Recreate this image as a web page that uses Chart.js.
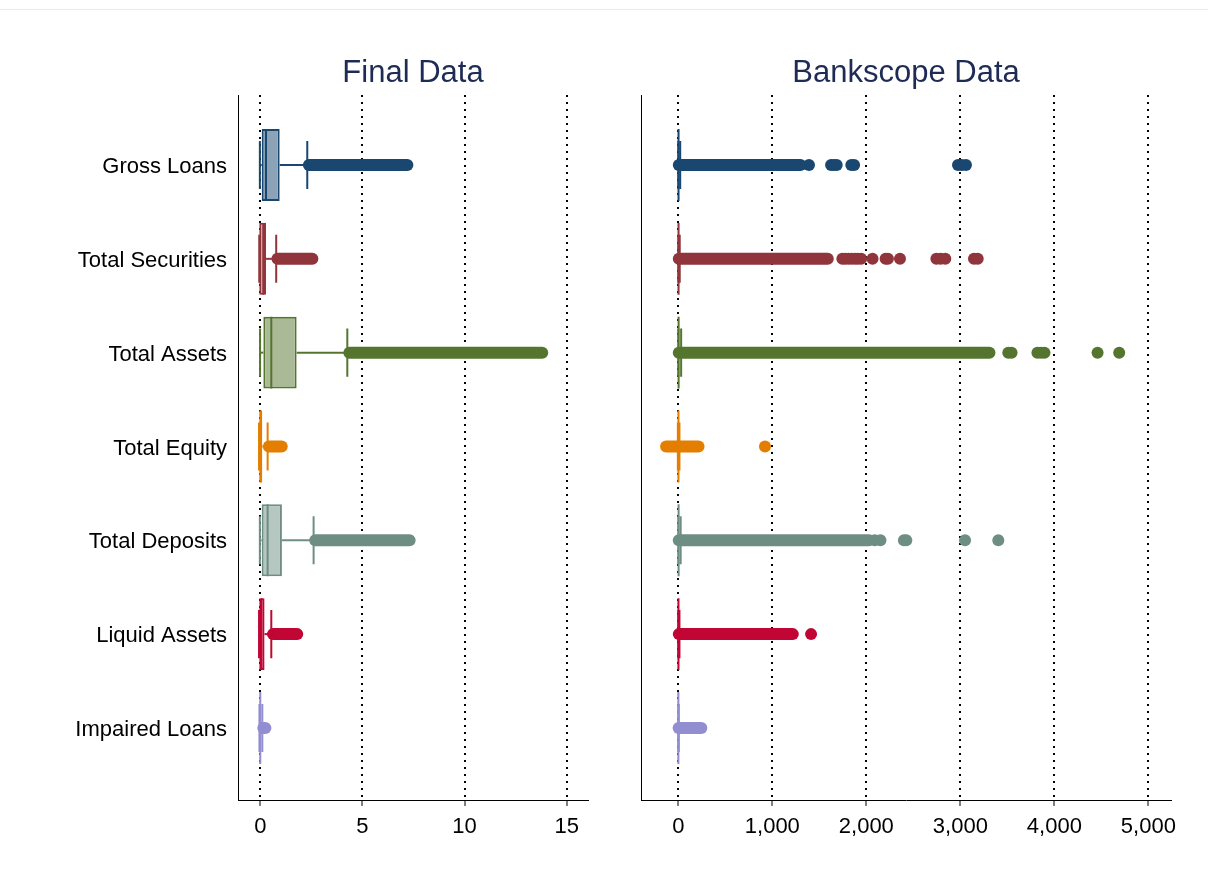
<!DOCTYPE html>
<html>
<head>
<meta charset="utf-8">
<title>Final Data vs Bankscope Data</title>
<script src="https://cdn.jsdelivr.net/npm/chart.js@4.4.1/dist/chart.umd.min.js"></script>
<style>
  html, body { margin: 0; padding: 0; background: #ffffff; }
  #page { position: relative; width: 1208px; height: 880px; overflow: hidden; background: #ffffff; }
  #topRule { position: absolute; left: 0; top: 9px; width: 1208px; height: 1px; background: #ececec; }
  #finalCanvas { position: absolute; left: 0; top: 0; }
  #bankCanvas { position: absolute; left: 600px; top: 0; }
</style>
</head>
<body>
<div id="page">
  <div id="topRule"></div>
  <canvas id="finalCanvas" width="600" height="880"></canvas>
  <canvas id="bankCanvas" width="608" height="880"></canvas>
</div>
<script>
// ---- Categories and tick labels ----
const categories = ['Gross Loans', 'Total Securities', 'Total Assets', 'Total Equity',
                    'Total Deposits', 'Liquid Assets', 'Impaired Loans'];
const finalTicks = [0, 5, 10, 15];
const bankTicks = [0, 1000, 2000, 3000, 4000, 5000];

// ---- Final Data: box statistics per category ----
const finalLowerAdj = [-0.02, -0.05, -0.01, -0.06, -0.02, -0.06, -0.04];
const finalQ1       = [0.07, -0.05, 0.15, -0.05, 0.07, -0.05, -0.03];
const finalMedian   = [0.28, 0.15, 0.54, 0.02, 0.36, 0.06, 0.00];
const finalQ3       = [0.95, 0.28, 1.78, 0.10, 1.06, 0.21, 0.04];
const finalUpperAdj = [2.30, 0.78, 4.26, 0.36, 2.61, 0.54, 0.10];
// outside values: densely packed stretches [from, to] and isolated values
const finalOutlierRuns = [[2.38, 7.20], [0.84, 2.55], [4.36, 13.80], [0.42, 1.05],
                          [2.69, 7.31], [0.62, 1.81], [0.15, 0.25]];
const finalOutlierPoints = [[], [], [], [], [], [], []];

// ---- Bankscope Data: box statistics per category ----
const bankLowerAdj = [0, 0, 0, -5, 0, 0, 0];
const bankQ1       = [0, 0, 0, 0, 0, 0, 0];
const bankMedian   = [2, 2, 3, 1, 3, 1, 0];
const bankQ3       = [8, 6, 12, 5, 10, 5, 2];
const bankUpperAdj = [20, 15, 30, 12, 25, 12, 5];
const bankOutlierRuns = [[5, 1300], [5, 1590], [5, 3310], [-130, 215],
                         [5, 2030], [5, 1218], [3, 245]];
const bankOutlierPoints = [
  [1390, 1625, 1655, 1685, 1840, 1870, 2975, 3015, 3060],
  [1745, 1775, 1810, 1845, 1880, 1910, 1945, 2066, 2205, 2230, 2358, 2745, 2790, 2840, 3145, 3185],
  [3510, 3545, 3820, 3860, 3895, 4460, 4690],
  [922],
  [2090, 2150, 2400, 2425, 3050, 3404],
  [1412],
  []
];

// ---- Styling ----
const lineColors = ['#1a476f', '#90353b', '#55752f', '#e37e00', '#6e8e84', '#c10534', '#938dd2'];
const boxFills   = ['#8ca3b7', '#c89a9d', '#aaba97', '#f1be80', '#b6c6c1', '#e08299', '#c9c6e8'];
const FONT = '"Liberation Sans", Arial, Helvetica, sans-serif';
const BOX_HALF = 0.383;   // half box height, in category units
const CAP_HALF = 0.256;   // half whisker-cap height
const MARKER_R = 6;

// Panel heading drawn centred over the plot region
const panelTitle = {
  id: 'panelTitle',
  afterDraw(chart, args, opts) {
    const { ctx, chartArea } = chart;
    ctx.save();
    ctx.font = '31px ' + FONT;
    ctx.fillStyle = '#1e2b55';
    ctx.textAlign = 'center';
    ctx.textBaseline = 'alphabetic';
    ctx.fillText(opts.text, (chartArea.left + chartArea.right) / 2, 82);
    ctx.restore();
  }
};

function buildDatasets(s) {
  const ds = [];
  const seg = (pts, color, width, cap, order) => ds.push({
    type: 'line', data: pts, borderColor: color, borderWidth: width,
    borderCapStyle: cap, pointRadius: 0, pointHoverRadius: 0, fill: false,
    tension: 0, order: order
  });
  categories.forEach((name, i) => {
    const c = lineColors[i];
    // median
    seg([{ x: s.med[i], y: i - BOX_HALF }, { x: s.med[i], y: i + BOX_HALF }], c, 2, 'butt', 1);
    // whiskers
    seg([{ x: s.q3[i], y: i }, { x: s.uw[i], y: i }], c, 2, 'butt', 1);
    seg([{ x: s.lw[i], y: i }, { x: s.q1[i], y: i }], c, 2, 'butt', 1);
    // whisker caps
    seg([{ x: s.uw[i], y: i - CAP_HALF }, { x: s.uw[i], y: i + CAP_HALF }], c, 2, 'butt', 1);
    seg([{ x: s.lw[i], y: i - CAP_HALF }, { x: s.lw[i], y: i + CAP_HALF }], c, 2, 'butt', 1);
    // densely packed outside values
    const r = s.runs[i];
    seg([{ x: r[0], y: i }, { x: r[1], y: i }], c, MARKER_R * 2, 'round', 2);
  });
  // isolated outside values
  const pts = [], cols = [];
  s.points.forEach((arr, i) => arr.forEach(v => { pts.push({ x: v, y: i }); cols.push(lineColors[i]); }));
  ds.push({
    type: 'scatter', data: pts, backgroundColor: cols, borderColor: cols,
    borderWidth: 0, pointRadius: MARKER_R, pointHoverRadius: MARKER_R, order: 2
  });
  // interquartile boxes
  ds.push({
    type: 'bar', indexAxis: 'y',
    data: categories.map((name, i) => ({ y: i, x: [s.q1[i], s.q3[i]] })),
    backgroundColor: boxFills, borderColor: lineColors, borderWidth: 2,
    borderSkipped: false, barPercentage: 0.767, categoryPercentage: 1,
    inflateAmount: 0, order: 10
  });
  return ds;
}

function makeChart(canvasId, title, s, xMin, xMax, ticks, yWidth, padRight, showLabels, fmt) {
  return new Chart(document.getElementById(canvasId), {
    type: 'scatter',
    data: { datasets: buildDatasets(s) },
    plugins: [panelTitle],
    options: {
      responsive: false,
      devicePixelRatio: 1,
      animation: false,
      events: [],
      layout: { padding: { top: 95, bottom: 30, left: 0, right: padRight } },
      plugins: {
        legend: { display: false },
        tooltip: { enabled: false },
        panelTitle: { text: title }
      },
      scales: {
        x: {
          type: 'linear', min: xMin, max: xMax, offset: false,
          afterBuildTicks: sc => { sc.ticks = ticks.map(v => ({ value: v })); },
          afterFit: sc => { sc.height = 50; },
          grid: {
            display: true, drawOnChartArea: true, drawTicks: true,
            color: '#000000', lineWidth: 2, tickLength: 6,
            tickColor: '#000000', tickWidth: 1, tickBorderDash: [], offset: false
          },
          border: { display: true, color: '#000000', width: 1, dash: [2, 5] },
          ticks: {
            color: '#000000', font: { family: FONT, size: 22 }, padding: 8,
            maxRotation: 0, autoSkip: false,
            callback: v => fmt(v)
          }
        },
        y: {
          type: 'linear', min: -0.746, max: 6.768, reverse: true, offset: false,
          afterBuildTicks: sc => { sc.ticks = categories.map((n, i) => ({ value: i })); },
          afterFit: sc => { sc.width = yWidth; },
          grid: { display: false, drawTicks: false, tickLength: 0, offset: false },
          border: { display: true, color: '#000000', width: 1 },
          ticks: {
            display: showLabels, color: '#000000', font: { family: FONT, size: 22 },
            padding: 11, labelOffset: 2, autoSkip: false,
            callback: v => categories[v]
          }
        }
      }
    }
  });
}

const finalStats = { lw: finalLowerAdj, q1: finalQ1, med: finalMedian, q3: finalQ3, uw: finalUpperAdj,
                     runs: finalOutlierRuns, points: finalOutlierPoints };
const bankStats = { lw: bankLowerAdj, q1: bankQ1, med: bankMedian, q3: bankQ3, uw: bankUpperAdj,
                    runs: bankOutlierRuns, points: bankOutlierPoints };

makeChart('finalCanvas', 'Final Data', finalStats, -1.09, 16.04, finalTicks, 238, 12, true,
          v => String(v));
makeChart('bankCanvas', 'Bankscope Data', bankStats, -397, 5241, bankTicks, 41, 37, false,
          v => v.toLocaleString('en-US'));
</script>
</body>
</html>
